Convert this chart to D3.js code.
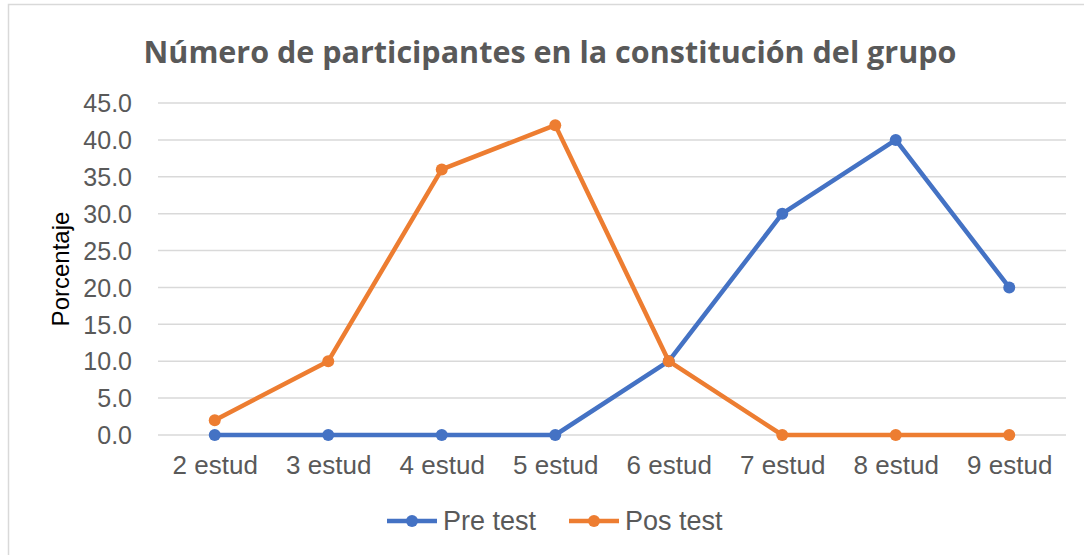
<!DOCTYPE html>
<html>
<head>
<meta charset="utf-8">
<script src="https://cdn.jsdelivr.net/npm/d3@7"></script>
<style>
  body { margin: 0; background: #fff; }
  text { font-family: "Liberation Sans", Arial, sans-serif; }
</style>
</head>
<body>
<div id="chart"></div>
<script>
const categories = ["2 estud", "3 estud", "4 estud", "5 estud", "6 estud", "7 estud", "8 estud", "9 estud"];
const preTest = [0, 0, 0, 0, 10, 30, 40, 20];
const posTest = [2, 10, 36, 42, 10, 0, 0, 0];
const yTicks = [0, 5, 10, 15, 20, 25, 30, 35, 40, 45];
const seriesNames = ["Pre test", "Pos test"];

const W = 1084, H = 555;
const margin = { top: 103, right: 18, bottom: 120, left: 158 };
const width = W - margin.left - margin.right,
    height = H - margin.top - margin.bottom;

const svg = d3.select("#chart").append("svg")
    .attr("width", W)
    .attr("height", H);

// outer frame
svg.append("rect")
    .attr("x", 8.5).attr("y", 4.5)
    .attr("width", W + 10).attr("height", H + 10)
    .attr("fill", "none")
    .attr("stroke", "#d9d9d9")
    .attr("stroke-width", 1.5);

svg.append("text")
    .attr("x", 550).attr("y", 63)
    .attr("text-anchor", "middle")
    .style("font-family", "'Open Sans', sans-serif")
    .style("font-weight", "bold")
    .style("font-size", "30.5px")
    .attr("fill", "#595959")
    .text("Número de participantes en la constitución del grupo");

const g = svg.append("g")
    .attr("transform", `translate(${margin.left},${margin.top})`);

const x = d3.scalePoint()
    .domain(categories)
    .range([0, width])
    .padding(0.5);

const y = d3.scaleLinear()
    .domain([0, 45])
    .range([height, 0]);

// gridlines
g.append("g")
    .selectAll("line")
    .data(yTicks)
    .join("line")
    .attr("x1", 0).attr("x2", width)
    .attr("y1", d => y(d)).attr("y2", d => y(d))
    .attr("stroke", "#d9d9d9")
    .attr("stroke-width", 1.5);

const yAxis = g.append("g")
    .call(d3.axisLeft(y).tickValues(yTicks).tickFormat(d3.format(".1f")).tickSize(0).tickPadding(26));
yAxis.select(".domain").remove();
yAxis.selectAll("text")
    .style("font-size", "25px")
    .attr("fill", "#595959")
    .attr("dy", "0.35em");

const xAxis = g.append("g")
    .attr("transform", `translate(0,${height})`)
    .call(d3.axisBottom(x).tickSize(0).tickPadding(21));
xAxis.select(".domain").remove();
xAxis.selectAll("text")
    .style("font-size", "26px")
    .attr("fill", "#595959");

svg.append("text")
    .attr("transform", `translate(61,269) rotate(-90)`)
    .attr("text-anchor", "middle")
    .attr("dy", "0.35em")
    .style("font-size", "24px")
    .attr("fill", "#000")
    .text("Porcentaje");

const series = [
    { name: seriesNames[0], values: preTest, color: "#4472c4" },
    { name: seriesNames[1], values: posTest, color: "#ed7d31" }
];

const line = d3.line()
    .x((d, i) => x(categories[i]))
    .y(d => y(d));

series.forEach(s => {
    g.append("path")
        .datum(s.values)
        .attr("fill", "none")
        .attr("stroke", s.color)
        .attr("stroke-width", 4.5)
        .attr("stroke-linejoin", "round")
        .attr("d", line);
    g.selectAll(null)
        .data(s.values)
        .join("circle")
        .attr("cx", (d, i) => x(categories[i]))
        .attr("cy", d => y(d))
        .attr("r", 6)
        .attr("fill", s.color);
});

// legend
const legendX = [387, 569];
const legend = svg.append("g");
series.forEach((s, i) => {
    const lg = legend.append("g").attr("transform", `translate(${legendX[i]},521)`);
    lg.append("line")
        .attr("x1", 0).attr("x2", 50)
        .attr("stroke", s.color).attr("stroke-width", 4.5);
    lg.append("circle").attr("cx", 25).attr("r", 6).attr("fill", s.color);
    lg.append("text")
        .attr("x", 56).attr("dy", "0.35em")
        .style("font-size", "27px")
        .attr("fill", "#595959")
        .text(s.name);
});
</script>
</body>
</html>
